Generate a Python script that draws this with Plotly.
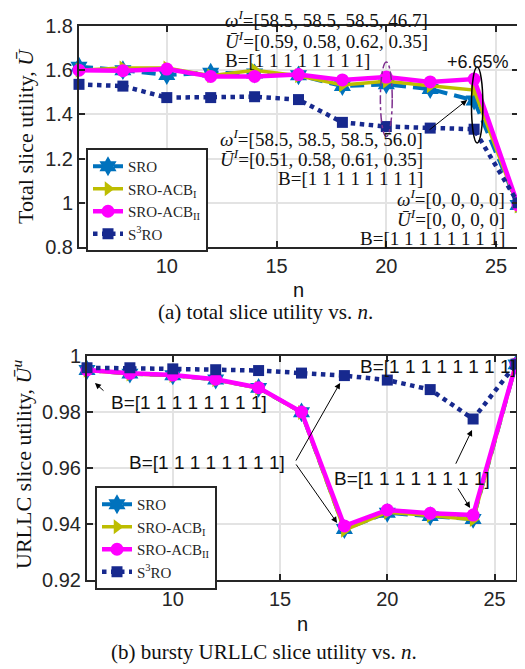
import plotly.graph_objects as go

# ---------------- data ----------------
n = [6, 8, 10, 12, 14, 16, 18, 20, 22, 24, 26]

total_sro = [1.616, 1.600, 1.578, 1.589, 1.585, 1.577, 1.528, 1.536, 1.515, 1.463, 0.990]
total_acb1 = [1.600, 1.610, 1.610, 1.575, 1.600, 1.575, 1.533, 1.550, 1.530, 1.510, 0.985]
total_acb2 = [1.600, 1.598, 1.605, 1.572, 1.572, 1.580, 1.556, 1.569, 1.547, 1.560, 0.990]
total_s3ro = [1.536, 1.528, 1.476, 1.476, 1.480, 1.467, 1.364, 1.345, 1.338, 1.333, 1.000]

urllc_sro = [0.9950, 0.9937, 0.9931, 0.9916, 0.9886, 0.9799, 0.9382, 0.9440, 0.9428, 0.9418, 0.9970]
urllc_acb1 = [0.9949, 0.9936, 0.9930, 0.9915, 0.9885, 0.9798, 0.9378, 0.9442, 0.9430, 0.9416, 0.9968]
urllc_acb2 = [0.9950, 0.9938, 0.9932, 0.9917, 0.9887, 0.9800, 0.9393, 0.9450, 0.9438, 0.9432, 0.9971]
urllc_s3ro = [0.9958, 0.9958, 0.9954, 0.9951, 0.9948, 0.9939, 0.9930, 0.9914, 0.9880, 0.9775, 0.9971]

series_names = ["SRO", "SRO-ACB<sub>I</sub>", "SRO-ACB<sub>II</sub>", "S<sup>3</sup>RO"]
x_ticks = [10, 15, 20, 25]
y1_ticks = [0.8, 1.0, 1.2, 1.4, 1.6, 1.8]
y1_ticktext = ["0.8", "1", "1.2", "1.4", "1.6", "1.8"]
y2_ticks = [0.92, 0.94, 0.96, 0.98, 1.0]
y2_ticktext = ["0.92", "0.94", "0.96", "0.98", "1"]

SERIF = "Liberation Serif"
SANS = "Liberation Sans"
DARK = "#262626"

styles = [
    dict(line=dict(color="#0072BD", width=4, dash="14px,7px"),
         marker=dict(symbol="hexagram", size=15, color="#0072BD")),
    dict(line=dict(color="#BDBD00", width=3.5, dash="solid"),
         marker=dict(symbol="triangle-right", size=13, color="#BDBD00")),
    dict(line=dict(color="#FF00FF", width=4.5, dash="solid"),
         marker=dict(symbol="circle", size=13, color="#FF00FF")),
    dict(line=dict(color="#17298E", width=4.5, dash="dot"),
         marker=dict(symbol="square", size=11, color="#17298E")),
]

fig = go.Figure()
top_sets = [total_sro, total_acb1, total_acb2, total_s3ro]
bot_sets = [urllc_sro, urllc_acb1, urllc_acb2, urllc_s3ro]
for name, ys, st in zip(series_names, top_sets, styles):
    fig.add_trace(go.Scatter(x=n, y=ys, name=name, mode="lines+markers",
                             line=st["line"], marker=st["marker"],
                             xaxis="x", yaxis="y", legend="legend", cliponaxis=False))
for name, ys, st in zip(series_names, bot_sets, styles):
    fig.add_trace(go.Scatter(x=n, y=ys, name=name, mode="lines+markers",
                             line=st["line"], marker=st["marker"],
                             xaxis="x2", yaxis="y2", legend="legend2", cliponaxis=False))

# page body has an 8px margin: figure is drawn from (8, 8)
OFF = 8
W, H = 525 - OFF, 669 - OFF
def px_x(p): return (p - OFF) / W
def px_y(p): return 1 - (p - OFF) / H

axis_common = dict(showline=True, linecolor=DARK, linewidth=2, mirror="ticks",
                   ticks="inside", ticklen=6, tickwidth=1.5, tickcolor=DARK,
                   showgrid=True, gridcolor="#E3E3E3", gridwidth=1.5,
                   zeroline=False, automargin=False,
                   tickfont=dict(family=SANS, size=20, color=DARK))

legend_common = dict(xanchor="left", yanchor="top", bgcolor="white",
                     bordercolor=DARK, borderwidth=2,
                     font=dict(family=SERIF, size=15, color=DARK), itemwidth=30,
                     tracegroupgap=0)

fig.update_layout(
    width=W, height=H,
    margin=dict(l=0, r=0, t=0, b=0),
    paper_bgcolor="white", plot_bgcolor="white",
    showlegend=True,
    xaxis=dict(domain=[px_x(79), px_x(518)], range=[6, 26], tickvals=x_ticks,
               anchor="y", **axis_common),
    yaxis=dict(domain=[px_y(247), px_y(26)], range=[0.8, 1.8], tickvals=y1_ticks,
               ticktext=y1_ticktext, anchor="x", **axis_common),
    xaxis2=dict(domain=[px_x(87), px_x(516)], range=[6, 26], tickvals=x_ticks,
                anchor="y2", **axis_common),
    yaxis2=dict(domain=[px_y(580), px_y(356)], range=[0.92, 1.0], tickvals=y2_ticks,
                ticktext=y2_ticktext, anchor="x2", **axis_common),
    legend=dict(x=px_x(86), y=px_y(148), **legend_common),
    legend2=dict(x=px_x(95), y=px_y(486), **legend_common),
)

ann = []
def txt(x, y, s, xref="x", yref="y", xanchor="left", family=SERIF, size=19, **kw):
    ann.append(dict(x=x, y=y, xref=xref, yref=yref, text=s, showarrow=False,
                    xanchor=xanchor, yanchor="middle",
                    font=dict(family=family, size=size, color="#111111"), **kw))

def arrow(hx, hy, tx, ty, xr="x", yr="y"):
    ann.append(dict(x=hx, y=hy, ax=tx, ay=ty, xref=xr, yref=yr, axref=xr, ayref=yr,
                    text="", showarrow=True, arrowhead=2, arrowsize=1.2,
                    arrowwidth=1, arrowcolor="black"))

# top chart annotation blocks
txt(px_x(223), px_y(19), "<i>ω</i><sup><i>I</i></sup>=[58.5, 58.5, 58.5, 46.7]",
    xref="paper", yref="paper")
txt(12.56, 1.737, "<i>Ū</i><sup><i>I</i></sup>=[0.59, 0.58, 0.62, 0.35]")
txt(12.56, 1.642, "B=[1 1 1 1 1 1 1 1]")

txt(21.76, 1.293, "<i>ω</i><sup><i>I</i></sup>=[58.5, 58.5, 58.5, 56.0]", xanchor="right")
txt(21.76, 1.203, "<i>Ū</i><sup><i>I</i></sup>=[0.51, 0.58, 0.61, 0.35]", xanchor="right")
txt(21.76, 1.112, "B=[1 1 1 1 1 1 1 1]", xanchor="right")

txt(25.5, 1.020, "<i>ω</i><sup><i>I</i></sup>=[0, 0, 0, 0]", xanchor="right")
txt(25.5, 0.930, "<i>Ū</i><sup><i>I</i></sup>=[0, 0, 0, 0]", xanchor="right")
txt(25.5, 0.840, "B=[1 1 1 1 1 1 1 1]", xanchor="right")

txt(24.18, 1.637, "+6.65%", xanchor="center", family=SANS, size=18)
arrow(23.68, 1.465, 21.90, 1.325)

# bottom chart annotations
txt(18.63, 0.9961, "B=[1 1 1 1 1 1 1 1]", xref="x2", yref="y2", family=SANS)
txt(7.03, 0.98357, "B=[1 1 1 1 1 1 1 1]", xref="x2", yref="y2", family=SANS)
txt(15.32, 0.96179, "B=[1 1 1 1 1 1 1 1]", xref="x2", yref="y2", xanchor="right",
    family=SANS)
txt(17.42, 0.95643, "B=[1 1 1 1 1 1 1 1]", xref="x2", yref="y2", family=SANS)

arrow(6.37, 0.99036, 6.84, 0.98714, "x2", "y2")
arrow(17.80, 0.9904, 15.70, 0.9621, "x2", "y2")
arrow(17.66, 0.9404, 15.70, 0.9618, "x2", "y2")
arrow(23.95, 0.9736, 23.16, 0.9610, "x2", "y2")
arrow(23.86, 0.9457, 23.25, 0.9532, "x2", "y2")

# axis titles and captions
txt(px_x(25), px_y(136), "Total slice utility, <i>Ū</i>", xref="paper", yref="paper",
    xanchor="center", size=22, textangle=-90)
txt(px_x(22), px_y(465), "URLLC slice utility, <i>Ū</i><sup><i>u</i></sup>",
    xref="paper", yref="paper", xanchor="center", size=22, textangle=-90)
txt(px_x(298), px_y(290), "n", xref="paper", yref="paper", xanchor="center",
    family=SANS, size=20)
txt(px_x(302), px_y(624), "n", xref="paper", yref="paper", xanchor="center",
    family=SANS, size=20)
txt(px_x(265), px_y(312), "(a) total slice utility vs. <i>n</i>.", xref="paper",
    yref="paper", xanchor="center", size=21)
txt(px_x(264), px_y(652), "(b) bursty URLLC slice utility vs. <i>n</i>.", xref="paper",
    yref="paper", xanchor="center", size=21)

fig.update_layout(annotations=ann)

fig.add_shape(type="circle", xref="x", yref="y", x0=19.73, x1=20.27, y0=1.30, y1=1.637,
              line=dict(color="#7E2F8E", width=1.5, dash="dashdot"))
fig.add_shape(type="circle", xref="x", yref="y", x0=23.88, x1=24.40, y0=1.271, y1=1.614,
              line=dict(color="black", width=1.5))

fig.write_html("out.html")
